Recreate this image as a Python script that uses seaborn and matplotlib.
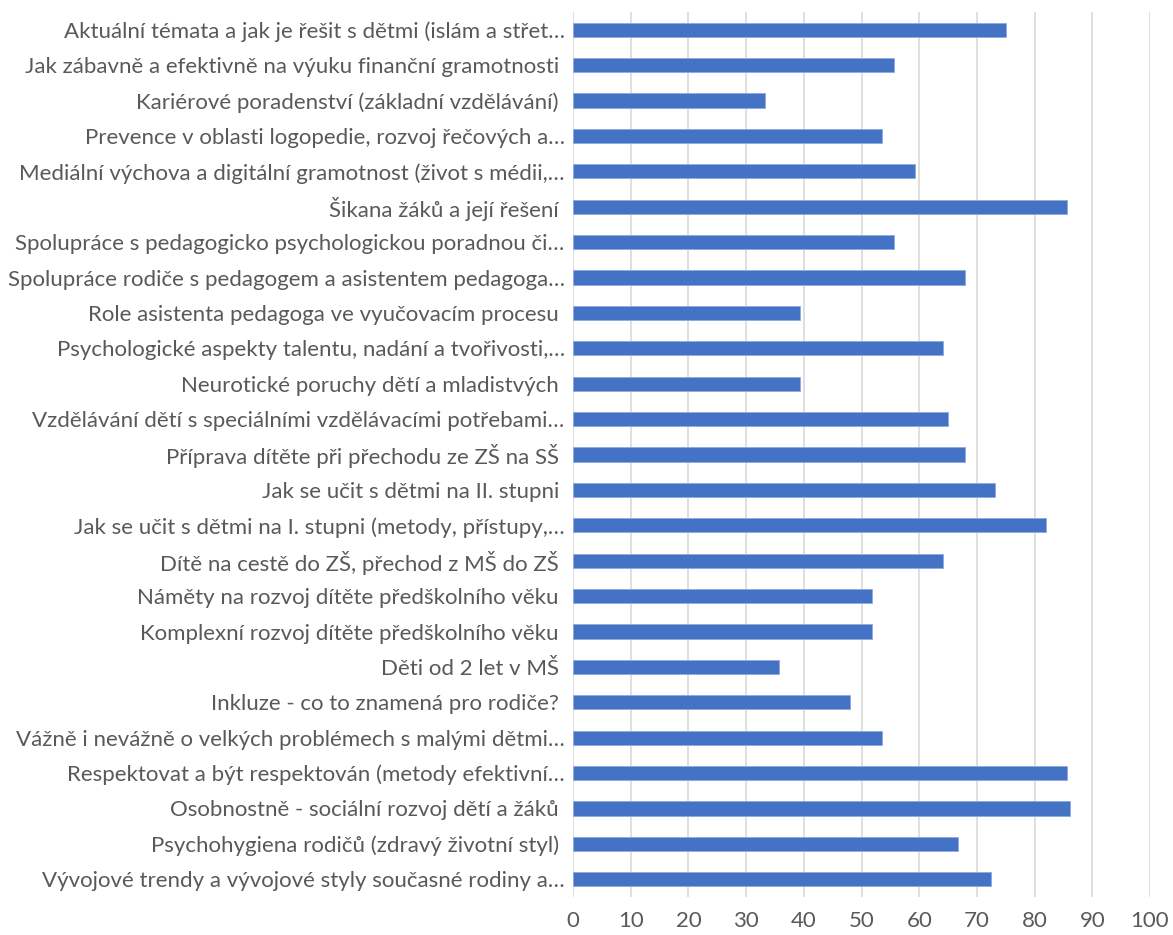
import matplotlib
matplotlib.use('Agg')
import matplotlib.pyplot as plt
import seaborn as sns

# topics (top to bottom) and share of respondents in %
topics = [
    'Aktuální témata a jak je řešit s dětmi (islám a střet…',
    'Jak zábavně a efektivně na výuku finanční gramotnosti ',
    'Kariérové poradenství (základní vzdělávání) ',
    'Prevence v oblasti logopedie, rozvoj řečových a…',
    'Mediální výchova a digitální gramotnost (život s médii,…',
    'Šikana žáků a její řešení ',
    'Spolupráce s pedagogicko psychologickou poradnou či…',
    'Spolupráce rodiče s pedagogem a asistentem pedagoga…',
    'Role asistenta pedagoga ve vyučovacím procesu ',
    'Psychologické aspekty talentu, nadání a tvořivosti,…',
    'Neurotické poruchy dětí a mladistvých ',
    'Vzdělávání dětí s speciálními vzdělávacími potřebami…',
    'Příprava dítěte při přechodu ze ZŠ na SŠ ',
    'Jak se učit s dětmi na II. stupni ',
    'Jak se učit s dětmi na I. stupni (metody, přístupy,…',
    'Dítě na cestě do ZŠ, přechod z MŠ do ZŠ ',
    'Náměty na rozvoj dítěte předškolního věku ',
    'Komplexní rozvoj dítěte předškolního věku ',
    'Děti od 2 let v MŠ ',
    'Inkluze - co to znamená pro rodiče? ',
    'Vážně i nevážně o velkých problémech s malými dětmi…',
    'Respektovat a být respektován (metody efektivní…',
    'Osobnostně - sociální rozvoj dětí a žáků ',
    'Psychohygiena rodičů (zdravý životní styl) ',
    'Vývojové trendy a vývojové styly současné rodiny a…',
]
values = [75.0, 55.6, 33.3, 53.6, 59.3, 85.7, 55.6, 67.9, 39.3, 64.2,
          39.3, 65.0, 67.9, 73.1, 82.0, 64.2, 51.9, 51.9, 35.7, 48.0,
          53.6, 85.7, 86.1, 66.7, 72.4]
x_ticks = [0, 10, 20, 30, 40, 50, 60, 70, 80, 90, 100]

sns.set_style('white')
plt.rcParams['font.family'] = ['Lato', 'DejaVu Sans']

fig = plt.figure(figsize=(11.73, 9.35), dpi=100)
ax = fig.add_axes([573 / 1173, 1 - 897 / 935, 577 / 1173, 885 / 935])

sns.barplot(x=values, y=topics, orient='h', color='#4472C4', saturation=1,
            width=0.4, edgecolor='#8FAADC', linewidth=0.6, ax=ax)

ax.set_xlim(0, 100)
ax.set_ylim(len(topics) - 0.5, -0.5)
ax.set_xticks(x_ticks)
ax.set_xticklabels([str(t) for t in x_ticks])
ax.grid(axis='x', color='#D9D9D9', linewidth=1.2)
ax.set_axisbelow(True)
for s in ax.spines.values():
    s.set_visible(False)
ax.tick_params(axis='both', length=0, colors='#595959', labelsize=16)
ax.tick_params(axis='x', pad=10)
ax.tick_params(axis='y', pad=6)
ax.set_xlabel('')
ax.set_ylabel('')

fig.savefig('out.png', dpi=100, facecolor='white')
